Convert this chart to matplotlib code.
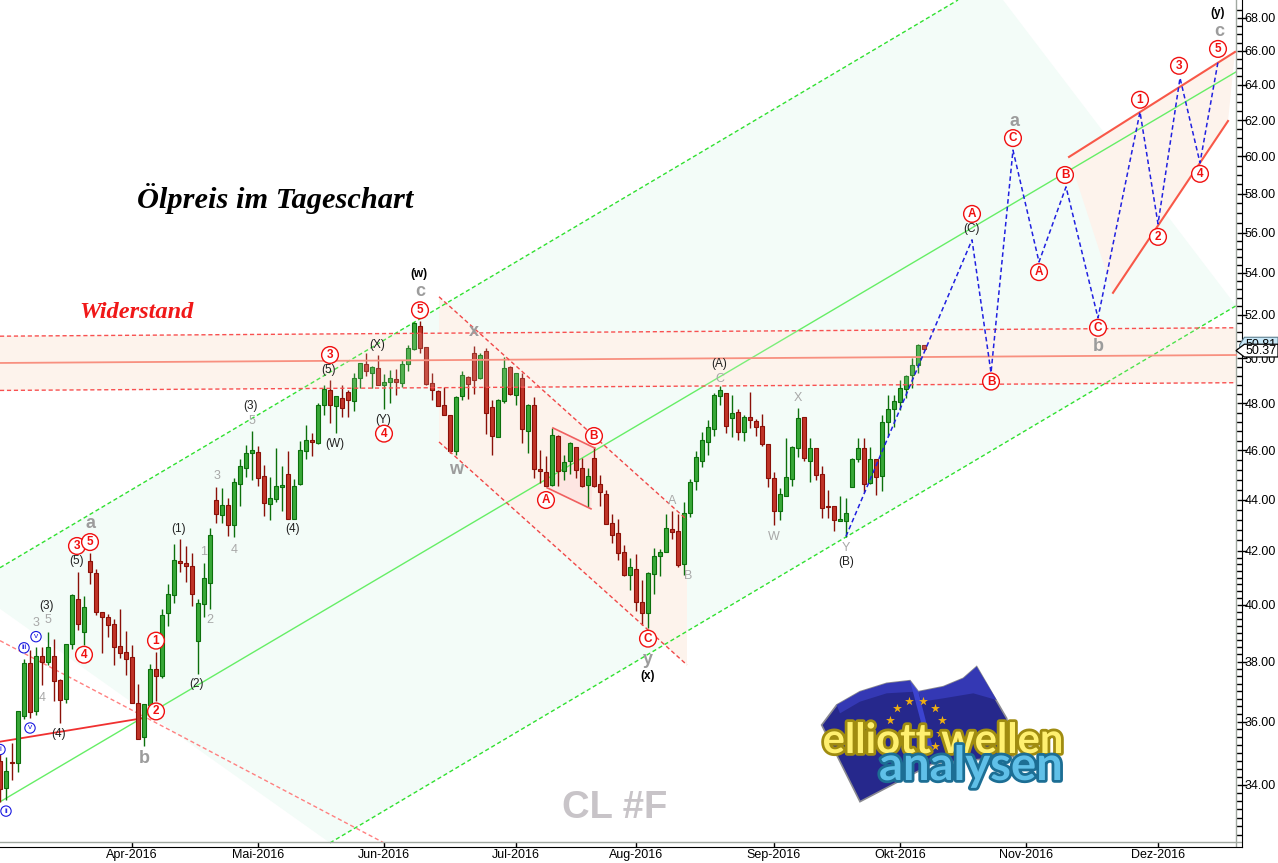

# Oelpreis im Tageschart (CL #F)
import numpy as np
import matplotlib
matplotlib.use('Agg')
import matplotlib.pyplot as plt
import matplotlib.patheffects as pe

plt.rcParams['font.family'] = ['Liberation Sans', 'DejaVu Sans']

# tageskerzen, index = handelstag
opens = [34.74, 33.89, 34.71, 34.66, 36.19, 37.94, 36.35, 38.19, 38.00, 38.19,
         37.37, 36.73, 38.60, 40.23, 39.04, 41.62, 41.19, 39.74, 39.55, 39.33,
         38.54, 38.33, 38.15, 36.62, 35.50, 36.54, 37.76, 37.51, 39.72, 40.35,
         41.64, 41.54, 41.43, 38.72, 40.04, 40.81, 43.99, 43.40, 43.78, 42.98,
         44.64, 45.29, 45.91, 45.94, 44.95, 43.84, 44.04, 44.52, 45.03, 43.25,
         44.61, 45.99, 46.43, 46.29, 47.91, 48.59, 47.87, 48.22, 48.51, 48.08,
         49.09, 49.74, 49.31, 49.56, 48.82, 48.91, 49.07, 48.88, 49.72, 50.42,
         51.47, 50.50, 48.90, 48.54, 47.92, 47.50, 45.99, 48.30, 49.16, 50.24,
         49.09, 50.33, 47.84, 46.57, 48.08, 49.62, 48.38, 49.13, 46.83, 47.91,
         45.24, 45.10, 44.59, 46.60, 45.13, 45.54, 46.14, 45.26, 44.59, 45.67,
         44.63, 44.22, 43.07, 42.68, 41.95, 41.09, 41.34, 40.10, 39.70, 41.15,
         41.81, 41.97, 42.85, 42.75, 41.50, 43.45, 44.76, 45.57, 46.36, 46.91,
         48.33, 48.44, 47.38, 47.61, 46.78, 47.40, 47.24, 47.01, 46.25, 44.86,
         43.56, 44.16, 44.84, 46.11, 47.40, 45.57, 46.09, 45.02, 43.73, 43.75,
         43.16, 43.14, 44.52, 45.63, 46.08, 44.65, 45.63, 44.96, 47.21, 47.77,
         48.04, 48.62, 49.24, 49.69, 50.61]
highs = [35.03, 34.87, 35.32, 36.34, 38.11, 38.40, 38.52, 38.52, 39.03, 38.78,
         37.40, 38.63, 40.38, 41.22, 40.32, 41.91, 41.34, 39.74, 39.69, 39.48,
         39.85, 39.06, 38.58, 37.24, 36.59, 37.91, 38.32, 39.85, 40.76, 42.26,
         42.45, 42.18, 41.91, 40.23, 41.53, 42.90, 44.49, 44.45, 44.05, 44.85,
         45.63, 46.23, 46.81, 46.19, 45.40, 44.92, 46.09, 45.36, 45.98, 44.82,
         46.39, 47.06, 46.71, 48.01, 48.78, 49.00, 48.32, 48.78, 48.56, 49.33,
         49.79, 50.22, 49.65, 50.15, 49.30, 49.47, 49.50, 49.92, 50.60, 51.68,
         51.71, 50.50, 49.33, 48.56, 48.73, 47.50, 48.32, 49.44, 49.18, 50.55,
         50.25, 50.45, 48.15, 48.18, 50.07, 49.65, 49.33, 49.34, 47.96, 48.26,
         46.02, 45.78, 46.93, 46.65, 45.81, 46.36, 46.15, 45.70, 45.26, 46.12,
         44.99, 44.38, 43.43, 43.22, 42.21, 41.72, 41.87, 40.91, 41.22, 42.10,
         42.06, 43.41, 43.54, 43.43, 43.89, 44.81, 45.97, 46.75, 47.26, 48.44,
         48.76, 48.44, 48.36, 47.74, 47.50, 48.50, 47.31, 47.53, 46.27, 45.10,
         44.45, 46.53, 46.16, 47.78, 47.40, 46.50, 46.11, 45.35, 44.39, 43.75,
         44.16, 44.05, 45.67, 46.53, 46.53, 46.15, 45.63, 47.50, 48.36, 48.36,
         49.02, 49.24, 49.99, 50.63, 50.61]
lows = [33.48, 33.53, 34.16, 34.40, 36.08, 36.10, 36.21, 37.20, 37.88, 36.67,
        35.96, 36.61, 38.43, 39.12, 38.58, 40.76, 39.63, 38.31, 38.86, 37.88,
        38.13, 37.54, 36.61, 35.44, 35.21, 36.52, 36.67, 37.45, 39.24, 40.07,
        41.22, 40.85, 39.96, 37.57, 39.57, 39.84, 43.07, 43.07, 42.58, 42.52,
        43.75, 44.89, 44.79, 44.55, 43.33, 43.20, 43.92, 43.53, 43.25, 43.25,
        44.59, 45.63, 45.77, 46.25, 47.50, 47.14, 46.74, 47.42, 47.42, 47.65,
        48.66, 49.21, 48.66, 48.81, 47.77, 48.01, 48.34, 48.73, 49.43, 50.38,
        50.25, 48.81, 48.15, 47.87, 47.50, 45.91, 45.81, 48.15, 48.18, 48.41,
        49.06, 46.68, 45.81, 46.54, 48.03, 48.37, 47.91, 46.29, 45.88, 44.85,
        44.65, 44.56, 44.55, 44.55, 44.79, 45.03, 44.85, 44.52, 43.71, 44.52,
        43.74, 43.04, 42.29, 41.66, 41.05, 40.53, 39.80, 39.29, 39.17, 40.40,
        41.07, 41.95, 42.46, 41.41, 41.09, 43.32, 44.38, 45.33, 45.80, 46.59,
        47.93, 46.73, 46.57, 46.43, 46.40, 46.95, 46.61, 46.18, 44.52, 43.01,
        43.18, 44.15, 44.56, 45.74, 45.57, 44.72, 44.79, 43.27, 43.27, 42.75,
        43.14, 42.55, 44.52, 45.53, 44.28, 44.63, 44.19, 44.36, 46.59, 47.00,
        47.71, 48.22, 48.65, 49.35, 50.37]
closes = [33.86, 34.43, 34.68, 36.34, 37.97, 36.32, 38.19, 38.00, 38.50, 37.35,
          36.70, 38.61, 40.35, 39.31, 39.91, 41.22, 39.75, 39.57, 39.28, 38.50,
          38.31, 38.10, 36.61, 35.44, 36.57, 37.74, 37.51, 39.65, 40.38, 41.65,
          41.55, 41.44, 40.40, 40.06, 40.97, 42.63, 43.44, 43.78, 42.98, 44.72,
          45.36, 45.88, 46.02, 44.88, 43.88, 44.07, 44.55, 44.57, 43.25, 44.55,
          46.02, 46.42, 46.36, 47.94, 48.63, 47.91, 48.32, 47.79, 48.12, 49.12,
          49.79, 49.40, 49.62, 48.81, 48.94, 49.13, 48.91, 49.74, 50.47, 51.60,
          50.48, 48.85, 48.56, 47.89, 47.51, 45.99, 48.28, 49.24, 48.85, 49.00,
          50.15, 47.56, 46.61, 48.16, 49.56, 48.41, 49.33, 46.89, 47.93, 45.22,
          45.13, 44.56, 46.63, 45.13, 45.51, 46.29, 45.19, 44.55, 44.95, 44.55,
          44.28, 43.05, 42.63, 41.91, 41.09, 41.38, 40.09, 39.72, 41.19, 41.81,
          41.98, 42.87, 42.74, 41.47, 43.45, 44.69, 45.71, 46.42, 46.97, 48.36,
          48.58, 47.04, 47.57, 46.78, 47.40, 47.30, 46.97, 46.27, 44.88, 43.53,
          44.23, 44.90, 46.15, 47.36, 45.70, 46.09, 44.98, 43.65, 43.72, 43.21,
          43.23, 43.46, 45.64, 46.08, 44.61, 45.63, 44.92, 47.18, 47.74, 48.10,
          48.65, 49.20, 49.71, 50.60, 50.39]

month_pos = [22, 43, 64, 86, 106, 129, 150, 171, 193]
month_labels = ['Apr-2016', 'Mai-2016', 'Jun-2016', 'Jul-2016', 'Aug-2016',
                'Sep-2016', 'Okt-2016', 'Nov-2016', 'Dez-2016']
price_ticks = np.arange(34, 69, 2)

# prognose (blau gestrichelt)
wave_x = [141, 162, 165.17, 168.83, 173.17, 177.67, 183, 190, 193, 196.67, 200, 203]
wave_y = [42.56, 55.64, 49.34, 60.34, 54.54, 58.37, 51.85, 62.46, 56.45, 64.41, 59.65, 65.35]

# wellenzaehlung: (index, preis, text)
black_labels = [(12.83, 41.63, '(5)'), (7.83, 39.96, '(3)'), (9.83, 35.60, '(4)'),
                (29.83, 42.85, '(1)'), (32.83, 37.25, '(2)'), (48.83, 42.85, '(4)'),
                (41.83, 47.88, '(3)'), (54.83, 49.47, '(5)'), (55.83, 46.26, '(W)'),
                (62.83, 50.60, '(X)'), (63.83, 47.29, '(Y)'), (119.83, 49.74, '(A)'),
                (141, 41.59, '(B)'), (162, 56.19, '(C)')]
bold_labels = [(69.83, 53.95, '(w)'), (108, 37.52, '(x)'), (203, 68.31, '(y)')]
gray_labels = [(6, 39.36, '3'), (8, 39.47, '5'), (7, 36.77, '4'), (34, 41.96, '1'),
               (35, 39.47, '2'), (39, 42.04, '4'), (36.17, 44.95, '3'), (42, 47.24, '5'),
               (112, 43.94, 'A'), (120, 49.07, 'C'), (114.67, 41.07, 'B'), (129, 42.54, 'W'),
               (133, 48.23, 'X'), (141, 42.12, 'Y')]
big_labels = [(15, 43.05, 'a'), (24, 34.81, 'b'), (70, 53.09, 'c'), (76, 45.23, 'w'),
              (79, 51.20, 'x'), (108, 38.09, 'y'), (169, 61.94, 'a'), (183, 50.51, 'b'),
              (203.17, 67.15, 'c')]
red_labels = [(12.83, 42.19, '3'), (15, 42.34, '5'), (14, 38.24, '4'), (26, 38.73, '1'),
              (26, 36.33, '2'), (55, 50.14, '3'), (64, 46.70, '4'), (70, 52.21, '5'),
              (91, 43.98, 'A'), (99, 46.60, 'B'), (108, 38.80, 'C'), (162, 56.96, 'A'),
              (168.83, 61.00, 'C'), (173.17, 54.04, 'A'), (177.5, 59.00, 'B'), (183, 51.39, 'C'),
              (165.17, 48.95, 'B'), (190, 63.15, '1'), (193, 55.79, '2'), (196.5, 65.12, '3'),
              (200, 59.06, '4'), (203, 66.12, '5')]
blue_labels = [(1, 33.20, 'ii'), (4, 38.48, 'iii'), (6, 38.87, 'v'), (5, 35.79, 'v'), (0, 35.10, 'i')]

fig = plt.figure(figsize=(12.78, 8.63), dpi=100)
ax = fig.add_axes([0, 16 / 863, 1242 / 1278, 847 / 863])
ax.set_yscale('log')
ax.set_xlim(0, 207)
ax.set_ylim(32.14, 69.11)

# kanaele und flaechen
ax.fill([0, 159.67, 167.17, 206, 55, 0], [41.37, 69.11, 69.11, 52.42, 32.26, 39.86],
        color='#f3fcf8', lw=0, zorder=0)
ax.fill([0, 206, 206, 0], [51.00, 51.39, 48.90, 48.56], color='#fdf3ec', lw=0, zorder=0.5)
ax.fill([73.17, 114.5, 114.5, 73.17], [52.85, 43.20, 37.89, 46.35], color='#fdf3ec', lw=0, zorder=0.5)
ax.fill([92.17, 99.17, 98.5, 91.17], [46.94, 46.09, 43.63, 44.47], color='#fde6e2', lw=0, zorder=0.6)
ax.fill([178.17, 205.83, 204.67, 185.5], [59.97, 65.94, 61.95, 53.04], color='#fdf3ec', lw=0, zorder=0.5)
ax.plot([0, 159.67], [41.37, 69.11], color='#30e030', lw=1, ls=(0, (3, 2)), zorder=1)
ax.plot([0, 206], [33.48, 64.76], color='#66ee66', lw=1, zorder=1)
ax.plot([55, 206], [32.26, 52.42], color='#30e030', lw=1, ls=(0, (3, 2)), zorder=1)

ax.plot([0, 64], [38.73, 32.26], color='#ff8080', lw=1, ls=(0, (3, 2)), zorder=1)
ax.plot([0, 23.83], [35.35, 36.11], color='#f03030', lw=1.3, zorder=1)

# kerzen
x = np.arange(len(opens))
o = np.array(opens)
c = np.array(closes)
up = c >= o
ax.vlines(x[up], np.array(lows)[up], np.array(highs)[up], color='#0c700c', lw=1, zorder=3)
ax.vlines(x[~up], np.array(lows)[~up], np.array(highs)[~up], color='#8a1008', lw=1, zorder=3)
body_low = np.minimum(o, c)
body_h = np.maximum(np.abs(c - o), 0.04)
ax.bar(x[up], body_h[up], 0.7, bottom=body_low[up], color='#38a838', edgecolor='#0c700c', lw=0.8, zorder=4)
ax.bar(x[~up], body_h[~up], 0.7, bottom=body_low[~up], color='#c03428', edgecolor='#8a1008', lw=0.8, zorder=4)

# leichter schleier ueber den kerzen im widerstand
ax.fill([0, 206, 206, 0], [51.00, 51.39, 48.90, 48.56], color='#fdf3ec', alpha=0.15, lw=0, zorder=5)
ax.plot([0, 206], [51.00, 51.39], color='#f85050', lw=1, ls=(0, (3, 2)), zorder=5)
ax.plot([0, 206], [49.78, 50.14], color='#f89080', lw=1.3, zorder=5)
ax.plot([0, 206], [48.56, 48.90], color='#f85050', lw=1, ls=(0, (3, 2)), zorder=5)

ax.plot([73.17, 114.5], [52.85, 43.20], color='#f04848', lw=1, ls=(0, (3, 2)), zorder=5)
ax.plot([73.17, 114.5], [46.35, 37.89], color='#f04848', lw=1, ls=(0, (3, 2)), zorder=5)

ax.plot([92.17, 99.17], [46.94, 46.09], color='#f06060', lw=1.2, zorder=5)
ax.plot([91.17, 98.5], [44.47, 43.63], color='#f06060', lw=1.2, zorder=5)

ax.plot([178.17, 205.83], [59.97, 65.94], color='#f85848', lw=1.5, zorder=5)
ax.plot([185.5, 204.67], [53.04, 61.95], color='#f85848', lw=1.5, zorder=5)

ax.plot(wave_x, wave_y, color='#2020e0', lw=1.1, ls=(0, (3, 2)), zorder=6)

# beschriftung der wellen
for lx, ly, s in black_labels:
    ax.text(lx, ly, s, fontsize=8.5, color='#202020', ha='center', va='center', zorder=7)
for lx, ly, s in bold_labels:
    ax.text(lx, ly, s, fontsize=8.5, color='black', fontweight='bold', ha='center', va='center', zorder=7)
for lx, ly, s in gray_labels:
    ax.text(lx, ly, s, fontsize=9, color='#a8a8a8', ha='center', va='center', zorder=7)
for lx, ly, s in big_labels:
    ax.text(lx, ly, s, fontsize=13, color='#9c9c9c', fontweight='bold', ha='center', va='center', zorder=7)
for lx, ly, s in red_labels:
    ax.text(lx, ly, s, fontsize=8.5, color='#f01010', fontweight='bold', ha='center', va='center', zorder=8,
            bbox=dict(boxstyle='circle,pad=0.2', fc='white', ec='#f01010', lw=1))
for lx, ly, s in blue_labels:
    ax.text(lx, ly, s, fontsize=6, color='#1818e0', ha='center', va='center', zorder=8,
            bbox=dict(boxstyle='circle,pad=0.2', fc='white', ec='#1818e0', lw=0.8))

ax.text(45.9, 57.74, 'Ölpreis im Tageschart', fontsize=21.9, family='Liberation Serif',
        fontweight='bold', style='italic', color='black', ha='center', va='center', zorder=8)
ax.text(22.8, 52.1, 'Widerstand', fontsize=17.6, family='Liberation Serif',
        fontweight='bold', style='italic', color='#f01818', ha='center', va='center', zorder=8)
ax.text(102.5, 33.3, 'CL #F', fontsize=27.5, fontweight='bold', color='#c8c4c8',
        ha='center', va='center', zorder=2)

# achsen
for side in ['top', 'left']:
    ax.spines[side].set_visible(False)
ax.axvline(206, color='#a0a8a0', lw=1, zorder=2)
ax.axhline(32.28, color='#a0a8a0', lw=1, zorder=2)
ax.yaxis.tick_right()
ax.set_yticks(price_ticks)
ax.set_yticklabels(['%.2f' % t for t in price_ticks], fontsize=9)
minor = np.concatenate([np.arange(32.5, 42, 0.25), np.arange(42, 56, 0.4), np.arange(56, 69, 0.5)])
ax.set_yticks(minor, minor=True)
ax.set_yticklabels([], minor=True)
ax.tick_params(axis='y', which='major', direction='inout', length=6.5, width=1, pad=-1.5)
ax.tick_params(axis='y', which='minor', direction='in', length=4.3, width=1)
ax.set_xticks(month_pos)
ax.set_xticklabels(month_labels, fontsize=9)
ax.tick_params(axis='x', which='major', direction='in', length=3.6, width=1, pad=1.5)

# preisschilder rechts
ax.fill([206.6, 207.4, 213, 213, 206.6], [50.6, 50.95, 50.95, 50.5, 50.5], color='#c8e8f8', ec='#608090',
        lw=0.8, clip_on=False, zorder=9)
ax.text(207.6, 50.58, '50.81', fontsize=9, va='center', ha='left', clip_on=False, zorder=9)
ax.fill([206, 207.4, 213, 213, 207.4], [closes[-1] - 0.05, 50.63, 50.63, 50.05, 50.05], color='white', ec='black',
        lw=0.9, clip_on=False, zorder=10)
ax.text(207.6, closes[-1] - 0.05, '50.37', fontsize=9, va='center', ha='left', clip_on=False, zorder=11)

# logo in bildpunkten
lg = fig.add_axes([0, 0, 1, 1], zorder=5)
lg.set_xlim(0, 1278)
lg.set_ylim(863, 0)
lg.axis('off')
lg.patch.set_alpha(0)
flag_x = np.array([65, 110, 180, 260, 330, 355, 430, 490, 530, 620, 640, 400, 180]) / 3 + 800
flag_y = np.array([225, 165, 125, 100, 92, 125, 110, 85, 50, 205, 320, 340, 455]) / 3 + 650
lg.fill(flag_x, flag_y, color='#26288c', ec='#8a8a90', lw=1.2)
lg.fill(np.array([110, 180, 260, 330, 345, 260, 180, 120]) / 3 + 800,
        np.array([165, 125, 100, 92, 125, 130, 155, 190]) / 3 + 650, color='#3438b4', lw=0)
lg.fill(np.array([355, 430, 490, 530, 590, 520, 430, 365]) / 3 + 800,
        np.array([125, 110, 85, 50, 150, 130, 145, 155]) / 3 + 650, color='#3438b4', lw=0)
lg.fill(np.array([330, 355, 400, 385]) / 3 + 800, np.array([92, 125, 300, 300]) / 3 + 650, color='#3c44d0', lw=0)
star_x = np.array([291, 328, 370, 404, 425, 420, 405, 270]) / 3 + 800
star_y = np.array([175, 153, 153, 175, 210, 250, 287, 210]) / 3 + 650
lg.scatter(star_x, star_y, marker='*', s=45, color='#f0b010', lw=0)
lg.text(943, 753, 'elliott wellen', fontsize=30, fontweight='bold', family='Lato', color='#fff070',
        ha='center', va='baseline', path_effects=[pe.withStroke(linewidth=4, foreground='#a08c10')])
lg.text(971, 780, 'analysen', fontsize=34, fontweight='bold', family='Lato', color='#60c0e8',
        ha='center', va='baseline', path_effects=[pe.withStroke(linewidth=4, foreground='#1c6e94')])

fig.savefig('out.png', dpi=100)
